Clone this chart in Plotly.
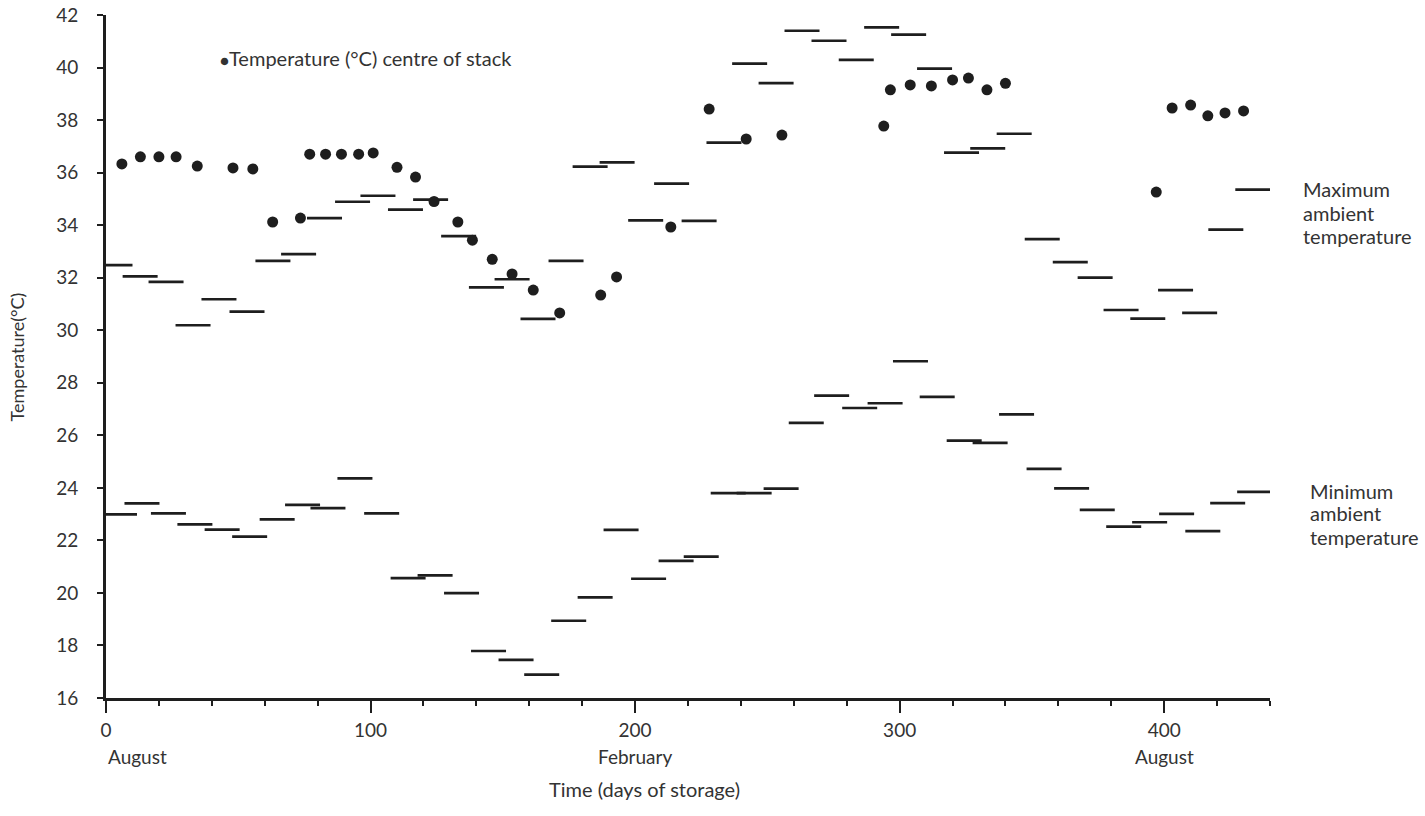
import plotly.graph_objects as go

# ---- data ----
stack_days = [6, 13, 20, 26.5, 34.5, 48, 55.5, 63, 73.5, 77, 83, 89, 95.5, 101,
              110, 117, 124, 133, 138.5, 146, 153.5, 161.5, 171.5, 187, 193, 213.5,
              228, 242, 255.5, 294, 296.5, 304, 312, 320, 326, 333, 340,
              397, 403, 410, 416.5, 423, 430]
stack_temp = [36.33, 36.6, 36.6, 36.6, 36.25, 36.18, 36.14, 34.12, 34.27, 36.7, 36.7,
              36.7, 36.7, 36.75, 36.2, 35.83, 34.9, 34.12, 33.43, 32.7, 32.14, 31.53,
              30.66, 31.34, 32.03, 33.93, 38.42, 37.28, 37.43, 37.77, 39.15, 39.34,
              39.3, 39.53, 39.6, 39.15, 39.4, 35.26, 38.46, 38.57, 38.16, 38.27, 38.35]

max_days = [3.4, 12.9, 22.7, 32.9, 42.7, 53.3, 63.1, 72.8, 82.6, 93.2, 102.8, 113.2,
            122.7, 133.3, 143.8, 153.5, 163.3, 173.9, 183, 193.2, 204, 213.8, 224.2,
            233.6, 243.3, 253.3, 263.1, 273.3, 283.6, 293.2, 303.4, 313.2, 323.4,
            333.3, 343.3, 353.9, 364.5, 373.9, 383.7, 393.8, 404.3, 413.4, 423.3, 433.5]
max_temp = [32.48, 32.05, 31.84, 30.19, 31.18, 30.71, 32.64, 32.9, 34.27, 34.89, 35.12,
            34.59, 34.97, 33.58, 31.63, 31.94, 30.43, 32.64, 36.23, 36.39, 34.18, 35.58,
            34.16, 37.14, 40.15, 39.41, 41.4, 41.02, 40.29, 41.53, 41.25, 39.96, 36.76,
            36.92, 37.48, 33.47, 32.59, 32.0, 30.77, 30.44, 31.53, 30.66, 33.83, 35.35]

min_days = [5.1, 13.6, 23.6, 33.6, 43.9, 54.3, 64.7, 74.3, 83.9, 94.1, 104.2, 114.2,
            124.4, 134.4, 144.6, 155, 164.7, 174.9, 184.9, 194.7, 205.1, 215.5, 225,
            235.2, 245, 255.2, 264.7, 274.3, 284.9, 294.5, 304.1, 314.2, 324.4, 334.2,
            344.2, 354.6, 365, 374.7, 384.7, 394.5, 404.7, 414.6, 424, 434.2]
min_temp = [22.99, 23.41, 23.03, 22.61, 22.41, 22.14, 22.8, 23.35, 23.23, 24.36, 23.03,
            20.56, 20.67, 19.99, 17.79, 17.45, 16.89, 18.94, 19.83, 22.4, 20.54, 21.22,
            21.38, 23.8, 23.8, 23.97, 26.47, 27.51, 27.04, 27.22, 28.82, 27.46, 25.8,
            25.71, 26.8, 24.72, 23.98, 23.16, 22.52, 22.69, 23.01, 22.35, 23.42, 23.85]

x_tick_vals = [0, 100, 200, 300, 400]
y_tick_vals = list(range(16, 43, 2))
month_labels = [(0, "August", "left"), (200, "February", "center"), (400, "August", "center")]
max_label_lines = ["Maximum", "ambient", "temperature"]
min_label_lines = ["Minimum", "ambient", "temperature"]

INK = "#1e1e1e"
TXT = "#333333"
FONT = "Lato"

fig = go.Figure()

dash_marker = dict(symbol="line-ew", size=25, color=INK, line=dict(color=INK, width=2.7))
fig.add_trace(go.Scatter(x=max_days, y=max_temp, mode="markers", marker=dash_marker,
                         name="Maximum ambient temperature", showlegend=False))
fig.add_trace(go.Scatter(x=min_days, y=min_temp, mode="markers", marker=dash_marker,
                         name="Minimum ambient temperature", showlegend=False))
fig.add_trace(go.Scatter(x=stack_days, y=stack_temp, mode="markers",
                         marker=dict(symbol="circle", size=11, color=INK),
                         name="Temperature centre of stack", showlegend=False))

def txt(size=20):
    return dict(family=FONT, size=size, color=TXT)

annotations = []
for day, label, anchor in month_labels:
    annotations.append(dict(x=day, y=-0.086, xref="x", yref="paper", text=label,
                            showarrow=False, xanchor=anchor, yanchor="middle",
                            font=txt(19)))
annotations += [
    dict(x=203.4, y=-0.133, xref="x", yref="paper", text="Time (days of storage)",
         showarrow=False, xanchor="center", yanchor="middle", font=txt(20)),
    dict(x=-0.0765, y=0.5, xref="paper", yref="paper", text="Temperature(°C)",
         textangle=-90, showarrow=False, xanchor="center", yanchor="middle",
         font=txt(18)),
    dict(x=42.3, y=0.937, xref="x", yref="paper",
         text="<span style='font-size:15px'>●</span>Temperature (°C) centre of stack",
         showarrow=False, xanchor="left", yanchor="middle", font=txt(20)),
]
for line, yy in zip(max_label_lines, [0.7452, 0.7101, 0.6764]):
    annotations.append(dict(x=1.0266, y=yy, xref="paper", yref="paper", text=line,
                            showarrow=False, xanchor="left", yanchor="middle",
                            font=txt(20)))
for line, yy in zip(min_label_lines, [0.3031, 0.2709, 0.2357]):
    annotations.append(dict(x=1.0326, y=yy, xref="paper", yref="paper", text=line,
                            showarrow=False, xanchor="left", yanchor="middle",
                            font=txt(20)))

fig.update_layout(
    width=1425, height=816,
    margin=dict(l=106, r=155, t=15, b=118, autoexpand=False),
    paper_bgcolor="white", plot_bgcolor="white",
    font=dict(family=FONT, size=19, color=TXT),
    annotations=annotations,
    xaxis=dict(range=[0, 440], showgrid=False, zeroline=False, automargin=False,
               showline=True, linecolor=INK, linewidth=3,
               tickmode="array", tickvals=x_tick_vals,
               ticks="outside", ticklen=12, tickwidth=2, tickcolor=INK,
               ticklabelstandoff=1,
               minor=dict(dtick=20, tick0=0, ticks="outside", ticklen=5,
                          tickwidth=2, tickcolor=INK, showgrid=False),
               tickfont=txt(19)),
    yaxis=dict(range=[16, 42], showgrid=False, zeroline=False, automargin=False,
               showline=True, linecolor=INK, linewidth=3,
               tickmode="array", tickvals=y_tick_vals,
               ticks="outside", ticklen=6, tickwidth=2, tickcolor=INK,
               ticklabelstandoff=15,
               tickfont=txt(19)),
)

fig.write_html("out.html")
